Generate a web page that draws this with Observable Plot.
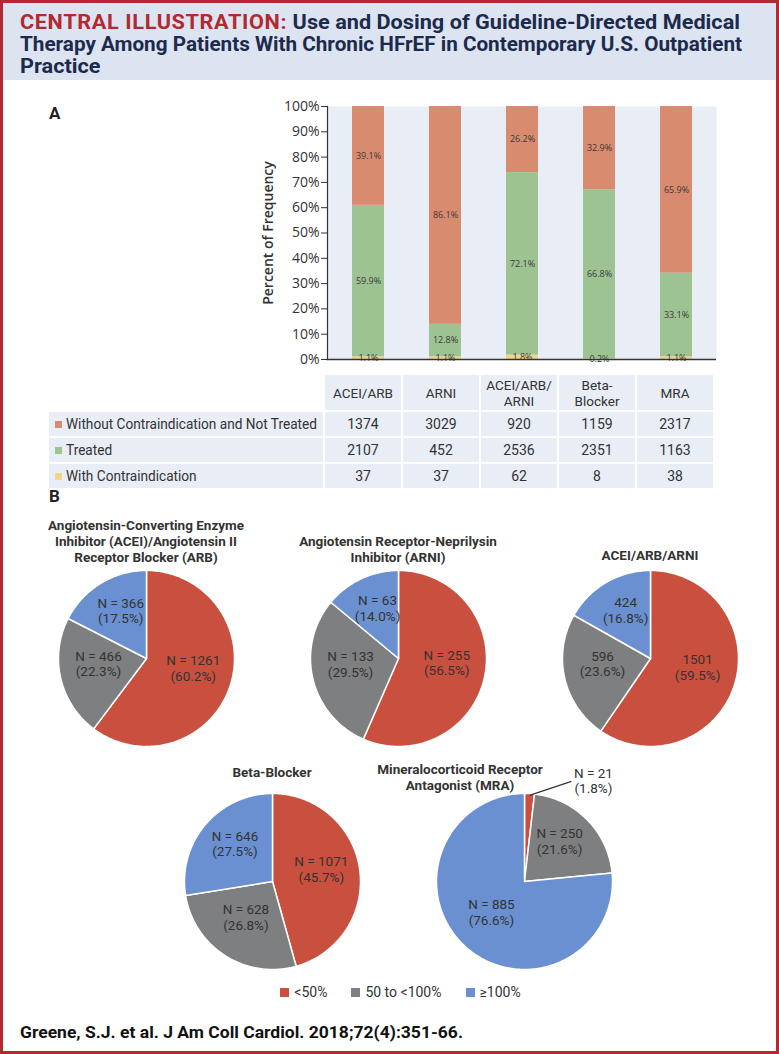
<!DOCTYPE html>
<html>
<head>
<meta charset="utf-8">
<script src="https://cdn.jsdelivr.net/npm/d3@7"></script>
<script src="https://cdn.jsdelivr.net/npm/@observablehq/plot@0.6"></script>
<style>
  html, body { margin:0; padding:0; background:#fff; }
  #page { position:relative; width:779px; height:1054px; box-sizing:border-box; border:3px solid #b2292f; overflow:hidden; font-family:Roboto, sans-serif; color:#333; }
  .abs { position:absolute; }
  #header { left:0; top:0; width:773px; height:77px; background:#dce3f1; }
  .tline { left:17px; font-family:Roboto, sans-serif; font-weight:700; font-size:21px; line-height:22px; color:#1c2a4c; white-space:nowrap; }
  .tline .red { color:#b2292f; letter-spacing:0.6px; }
  .panel { font-family:Roboto, sans-serif; font-weight:700; font-size:17px; color:#222; }
  table.t { border-collapse:separate; border-spacing:2px; table-layout:fixed; font-family:Roboto, sans-serif; color:#333; }
  table.t td { background:#e8edf6; text-align:center; font-size:14px; padding:0; white-space:nowrap; overflow:visible; }
  table.t td.lab { text-align:left; font-size:15px; padding-left:6px; }
  table.t td.blank { background:transparent; }
  table.t tr.h td { font-size:13.5px; line-height:16px; height:35px; }
  table.t tr.r td { height:24px; }
  .sw { display:inline-block; width:7px; height:7px; margin-right:4px; vertical-align:1px; }
  .ptitle { font-family:Roboto, sans-serif; font-weight:700; font-size:13.5px; line-height:16px; color:#333; text-align:center; white-space:nowrap; transform:translateX(-50%); }
  #legend { left:8px; width:779px; top:981px; display:flex; justify-content:center; gap:24px; font-family:Roboto, sans-serif; font-size:14px; color:#333; }
  #legend span.sq { display:inline-block; width:9px; height:9px; margin-right:5px; }
  #footer { left:17px; top:1019px; font-family:Roboto, sans-serif; font-weight:700; font-size:17px; color:#111; white-space:nowrap; }
</style>
</head>
<body>
<div id="page">
  <div id="header" class="abs"></div>
  <div id="t1" class="abs tline" style="top:8px;"><span class="red">CENTRAL ILLUSTRATION:</span> Use and Dosing of Guideline-Directed Medical</div>
  <div id="t2" class="abs tline" style="top:30px;">Therapy Among Patients With Chronic HFrEF in Contemporary U.S. Outpatient</div>
  <div id="t3" class="abs tline" style="top:52px;">Practice</div>
  <div class="abs panel" style="left:46px;top:100px;">A</div>
  <div id="bars" class="abs" style="left:237px;top:87px;"></div>
  <div id="table" class="abs" style="left:44px;top:370px;"></div>
  <div class="abs panel" style="left:46px;top:483px;">B</div>
  <div id="pies"></div>
  <div id="legend" class="abs"></div>
  <div id="footer" class="abs">Greene, S.J. et al. J Am Coll Cardiol. 2018;72(4):351-66.</div>
</div>
<script>
// ---------- DATA ----------
const categories = ["ACEI/ARB", "ARNI", "ACEI/ARB/ARNI", "Beta-Blocker", "MRA"];
const headerLabels = ["ACEI/ARB", "ARNI", "ACEI/ARB/<br>ARNI", "Beta-<br>Blocker", "MRA"];
const statuses = ["With Contraindication", "Treated", "Without Contraindication and Not Treated"];
const withoutCounts = [1374, 3029, 920, 1159, 2317];
const treatedCounts = [2107, 452, 2536, 2351, 1163];
const contraCounts = [37, 37, 62, 8, 38];
const withoutPct = [39.1, 86.1, 26.2, 32.9, 65.9];
const treatedPct = [59.9, 12.8, 72.1, 66.8, 33.1];
const contraPct = [1.1, 1.1, 1.8, 0.2, 1.1];
const yTicks = [0, 0.1, 0.2, 0.3, 0.4, 0.5, 0.6, 0.7, 0.8, 0.9, 1];

const doseCats = ["<50%", "50 to <100%", "≥100%"];
const pieTitles = [
  ["Angiotensin-Converting Enzyme", "Inhibitor (ACEI)/Angiotensin II", "Receptor Blocker (ARB)"],
  ["Angiotensin Receptor-Neprilysin", "Inhibitor (ARNI)"],
  ["ACEI/ARB/ARNI"],
  ["Beta-Blocker"],
  ["Mineralocorticoid Receptor", "Antagonist (MRA)"]
];
const aceiN = [1261, 466, 366];   const aceiPct = [60.2, 22.3, 17.5];
const arniN = [255, 133, 63];     const arniPct = [56.5, 29.5, 14.0];
const comboN = [1501, 596, 424];  const comboPct = [59.5, 23.6, 16.8];
const betaN = [1071, 628, 646];   const betaPct = [45.7, 26.8, 27.5];
const mraN = [21, 250, 885];      const mraPct = [1.8, 21.6, 76.6];

// ---------- STYLE ----------
const statusColors = ["#f1d48b", "#9dc393", "#d98b70"];
const doseColors = ["#c9503e", "#7e7f81", "#6a90d1"];

function fitWidth(el, w) {
  el.style.display = "inline-block";
  el.style.transformOrigin = "left center";
  const cw = el.getBoundingClientRect().width;
  const k = w / cw;
  el.style.transform = `scaleX(${k})`;
  return k;
}

// ---------- TITLE / FOOTER ----------
const kTitle = fitWidth(document.getElementById("t1"), 720);
fitWidth(document.getElementById("t2"), 722);
const t3 = document.getElementById("t3");
t3.style.transformOrigin = "left center";
t3.style.transform = `scaleX(${kTitle})`;
fitWidth(document.getElementById("footer"), 443);

// ---------- BAR CHART ----------
const barData = [];
categories.forEach((c, i) => {
  barData.push({cat: c, status: statuses[0], n: contraCounts[i], pct: contraPct[i]});
  barData.push({cat: c, status: statuses[1], n: treatedCounts[i], pct: treatedPct[i]});
  barData.push({cat: c, status: statuses[2], n: withoutCounts[i], pct: withoutPct[i]});
});

const bars = Plot.plot({
  width: 486, height: 286,
  marginLeft: 87, marginRight: 10, marginTop: 16, marginBottom: 17,
  style: {fontFamily: "Open Sans, sans-serif", color: "#333", background: "transparent", overflow: "visible"},
  x: {domain: categories, paddingInner: 0.59, paddingOuter: 0.295, axis: null},
  y: {domain: [0, 1]},
  color: {domain: statuses, range: statusColors},
  marks: [
    Plot.frame({fill: "#e8edf6", stroke: "none"}),
    Plot.barY(barData, Plot.stackY({offset: "normalize", order: null, x: "cat", y: "n", fill: "status"})),
    Plot.text(barData, Plot.stackY({offset: "normalize", order: null, x: "cat", y: "n", text: d => d.pct.toFixed(1) + "%", fontSize: 9, fill: "#3a3a3a"})),
    Plot.axisY({ticks: yTicks, tickFormat: d3.format(".0%"), tickSize: 6, tickPadding: 2, fontSize: 14, label: null}),
    Plot.ruleY([0], {stroke: "#333", strokeWidth: 1.5}),
    Plot.frame({anchor: "left", stroke: "#333", strokeWidth: 1.2}),
    Plot.text(["Percent of Frequency"], {text: d => d, frameAnchor: "left", textAnchor: "middle", rotate: -90, dx: -59, fontSize: 14, fontWeight: 600, fill: "#333"})
  ]
});
document.getElementById("bars").appendChild(bars);

// ---------- TABLE ----------
(function () {
  const rows = [
    {label: statuses[2], color: statusColors[2], vals: withoutCounts},
    {label: statuses[1], color: statusColors[1], vals: treatedCounts},
    {label: statuses[0], color: statusColors[0], vals: contraCounts}
  ];
  let html = '<table class="t" style="width:' + (274 + 5 * 76 + 12) + 'px"><colgroup><col style="width:274px">' + categories.map(() => '<col style="width:76px">').join("") + '</colgroup>';
  html += '<tr class="h"><td class="blank"></td>' + headerLabels.map(h => `<td>${h}</td>`).join("") + '</tr>';
  rows.forEach(r => {
    html += `<tr class="r"><td class="lab"><span class="sw" style="background:${r.color}"></span><span class="lt">${r.label}</span></td>` +
      r.vals.map(v => `<td>${v}</td>`).join("") + '</tr>';
  });
  html += '</table>';
  document.getElementById("table").innerHTML = html;
  const lts = document.querySelectorAll(".lt");
  const k = fitWidth(lts[0], 251);
  lts.forEach((el, i) => { if (i > 0) { el.style.display = "inline-block"; el.style.transformOrigin = "left center"; el.style.transform = `scaleX(${k})`; } });
})();

// ---------- PIES ----------
const R = 88, S = 260, D = S / 2 / R;
const pieSpecs = [
  {counts: aceiN, pcts: aceiPct, prefix: "N = ", cx: 143, cy: 655, tx: 143, ty: 515},
  {counts: arniN, pcts: arniPct, prefix: "N = ", cx: 395, cy: 655, tx: 395, ty: 531},
  {counts: comboN, pcts: comboPct, prefix: "", cx: 647, cy: 655, tx: 647, ty: 545},
  {counts: betaN, pcts: betaPct, prefix: "N = ", cx: 269, cy: 878, tx: 269, ty: 762},
  {counts: mraN, pcts: mraPct, prefix: "N = ", cx: 521, cy: 878, tx: 457, ty: 759, outside: [0]}
];

const piesDiv = document.getElementById("pies");
pieSpecs.forEach((spec, pi) => {
  const arcs = d3.pie().sort(null).value(d => d)(spec.counts);
  const pts = [];
  const labels = [];
  const links = [];
  arcs.forEach((a, i) => {
    const key = "s" + i;
    pts.push({k: key, cat: doseCats[i], x: 0, y: 0});
    const steps = Math.max(2, Math.ceil((a.endAngle - a.startAngle) / (Math.PI / 180)));
    for (let s = 0; s <= steps; s++) {
      const t = a.startAngle + (a.endAngle - a.startAngle) * s / steps;
      pts.push({k: key, cat: doseCats[i], x: Math.sin(t), y: Math.cos(t)});
    }
    pts.push({k: key, cat: doseCats[i], x: 0, y: 0});
    const mid = (a.startAngle + a.endAngle) / 2;
    const txt = spec.prefix + spec.counts[i] + "\n(" + spec.pcts[i].toFixed(1) + "%)";
    if (spec.outside && spec.outside.includes(i)) {
      const px = 0.98 * Math.sin(mid), py = 0.98 * Math.cos(mid);
      const qx = px + 42 / R, qy = py + 14 / R;
      links.push({x1: px, y1: py, x2: qx, y2: qy});
      labels.push({x: qx + 22 / R, y: qy + 1 / R, text: txt});
    } else {
      labels.push({x: 0.56 * Math.sin(mid), y: 0.56 * Math.cos(mid) + 6 / R, text: txt});
    }
  });
  const svg = Plot.plot({
    width: S, height: S, margin: 0,
    style: {fontFamily: "Roboto, sans-serif", background: "transparent", overflow: "visible"},
    x: {domain: [-D, D], axis: null},
    y: {domain: [-D, D], axis: null},
    color: {domain: doseCats, range: doseColors},
    marks: [
      Plot.line(pts, {x: "x", y: "y", z: "k", fill: "cat", stroke: "white", strokeWidth: 1.5, curve: "linear"}),
      Plot.link(links, {x1: "x1", y1: "y1", x2: "x2", y2: "y2", stroke: "#333", strokeWidth: 1.2}),
      Plot.text(labels, {x: "x", y: "y", text: "text", fontSize: 13.5, lineHeight: 1.15, fill: "#333"})
    ]
  });
  const holder = document.createElement("div");
  holder.className = "abs";
  holder.style.left = (spec.cx - S / 2) + "px";
  holder.style.top = (spec.cy - S / 2) + "px";
  holder.style.width = S + "px";
  holder.appendChild(svg);
  piesDiv.appendChild(holder);

  const t = document.createElement("div");
  t.className = "abs ptitle";
  t.style.left = spec.tx + "px";
  t.style.top = (spec.ty - 1) + "px";
  t.innerHTML = pieTitles[pi].join("<br>");
  piesDiv.appendChild(t);
});

// ---------- LEGEND ----------
document.getElementById("legend").innerHTML = doseCats.map((c, i) =>
  `<span><span class="sq" style="background:${doseColors[i]}"></span>${c}</span>`).join("");
</script>
</body>
</html>
